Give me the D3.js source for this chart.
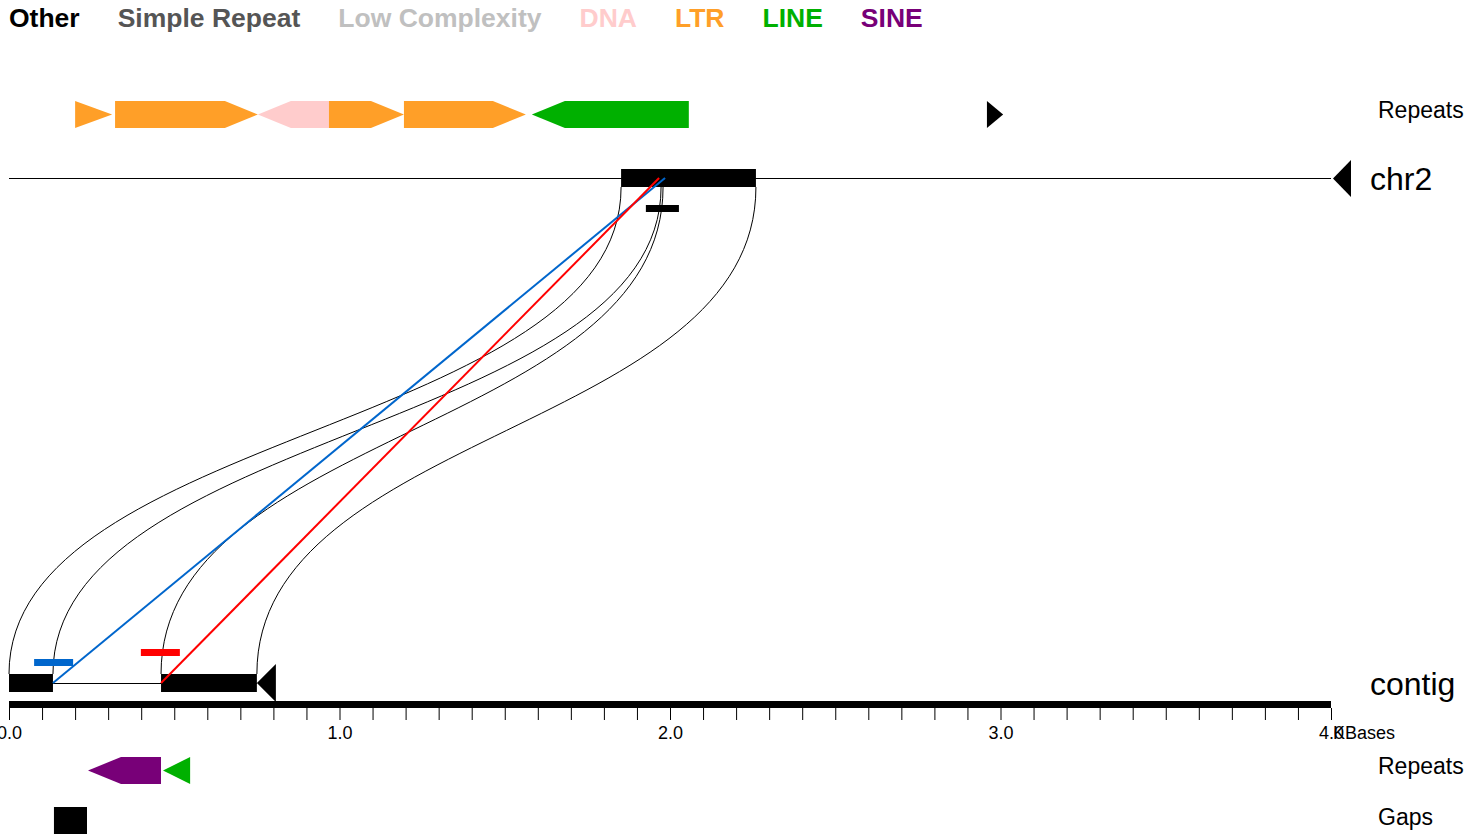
<!DOCTYPE html>
<html>
<head>
<meta charset="utf-8">
<script src="https://cdn.jsdelivr.net/npm/d3@7"></script>
<style>
  body { margin: 0; background: #fff; }
  svg text { font-family: "Liberation Sans", Arial, Helvetica, sans-serif; }
</style>
</head>
<body>
<div id="chart"></div>
<script>
// legend / repeat classes
let repeatTypes = ["Other", "Simple Repeat", "Low Complexity", "DNA", "LTR", "LINE", "SINE"];
let repeatColors = ["#000000", "#555555", "#c0c0c0", "#ffcccc", "#ff9f28", "#00b000", "#780078"];

// positions in kb
let chr2Length = 4.0;
let contigLength = 0.75;

let chr2Blocks = [[1.852, 2.260]];
let chr2Marks = [[1.927, 2.027]];
let contigBlocks = [[0.0, 0.133], [0.460, 0.750]];

// [start, end, strand, type]
let chr2Repeats = [
  [0.200, 0.312, "+", "LTR"],
  [0.321, 0.753, "+", "LTR"],
  [0.753, 0.968, "-", "DNA"],
  [0.968, 1.195, "+", "LTR"],
  [1.195, 1.564, "+", "LTR"],
  [1.582, 2.057, "-", "LINE"],
  [2.959, 3.008, "+", "Other"]
];
let contigRepeats = [
  [0.239, 0.460, "-", "SINE"],
  [0.466, 0.548, "-", "LINE"]
];
let contigGaps = [[0.136, 0.236]];

// alignment ribbons: contig [start,end] -> chr2 [start,end]
let ribbons = [
  {q: [0.0, 0.133], t: [1.852, 1.973]},
  {q: [0.460, 0.750], t: [1.979, 2.260]}
];
// highlighted hits: contig pos -> chr2 pos, with marker span on contig
let hits = [
  {q: 0.133, t: 1.985, mark: [0.076, 0.194], color: "#0066cc", level: 0},
  {q: 0.460, t: 1.967, mark: [0.399, 0.517], color: "#ff0000", level: 1}
];

let tickValues = d3.range(0, 41).map(i => i / 10);

let width = 1465;
let height = 840;

let x = d3.scaleLinear().domain([0, 4]).range([9, 1331]);
let color = d3.scaleOrdinal().domain(repeatTypes).range(repeatColors);

let svg = d3.select("#chart").append("svg")
  .attr("width", width)
  .attr("height", height);

// legend
let lx = 9;
repeatTypes.forEach((t, i) => {
  let txt = svg.append("text")
    .attr("x", lx)
    .attr("y", 27)
    .attr("font-size", 26.5)
    .attr("font-weight", "bold")
    .attr("fill", repeatColors[i])
    .text(t);
  lx += txt.node().getComputedTextLength() + 38;
});

function arrowPath(x0, x1, y, h, strand) {
  let head = 33;
  let len = x1 - x0;
  if (len < 40) {
    return strand === "+"
      ? `M${x0},${y}L${x1},${y + h / 2}L${x0},${y + h}Z`
      : `M${x1},${y}L${x0},${y + h / 2}L${x1},${y + h}Z`;
  }
  return strand === "+"
    ? `M${x0},${y}L${x1 - head},${y}L${x1},${y + h / 2}L${x1 - head},${y + h}L${x0},${y + h}Z`
    : `M${x1},${y}L${x0 + head},${y}L${x0},${y + h / 2}L${x0 + head},${y + h}L${x1},${y + h}Z`;
}

function drawRepeats(data, y) {
  svg.append("g").selectAll("path")
    .data(data)
    .enter()
    .append("path")
    .attr("d", d => arrowPath(x(d[0]), x(d[1]), y, 27, d[2]))
    .attr("fill", d => color(d[3]));
}

// track labels
function label(txt, lxPos, y, size) {
  svg.append("text")
    .attr("x", lxPos)
    .attr("y", y)
    .attr("font-size", size)
    .attr("fill", "#000")
    .text(txt);
}

// chr2 repeats
drawRepeats(chr2Repeats, 101);
label("Repeats", 1378, 118, 23);

// alignment curves
let link = d3.linkVertical();
let curveData = [];
ribbons.forEach(r => {
  curveData.push({source: [x(r.q[0]), 674], target: [x(r.t[0]), 187]});
  curveData.push({source: [x(r.q[1]), 674], target: [x(r.t[1]), 187]});
});
svg.append("g").selectAll("path")
  .data(curveData)
  .enter()
  .append("path")
  .attr("d", link)
  .attr("fill", "none")
  .attr("stroke", "#000")
  .attr("stroke-width", 1);

// chr2 line
svg.append("line")
  .attr("x1", x(0)).attr("x2", x(chr2Length))
  .attr("y1", 178.5).attr("y2", 178.5)
  .attr("stroke", "#000").attr("stroke-width", 1);
svg.append("path")
  .attr("d", `M${x(chr2Length) + 2},178.5L${x(chr2Length) + 20},160L${x(chr2Length) + 20},197Z`)
  .attr("fill", "#000");
svg.append("g").selectAll("rect")
  .data(chr2Blocks)
  .enter()
  .append("rect")
  .attr("x", d => x(d[0]))
  .attr("width", d => x(d[1]) - x(d[0]))
  .attr("y", 169).attr("height", 18)
  .attr("fill", "#000");
svg.append("g").selectAll("rect")
  .data(chr2Marks)
  .enter()
  .append("rect")
  .attr("x", d => x(d[0]))
  .attr("width", d => x(d[1]) - x(d[0]))
  .attr("y", 205).attr("height", 7)
  .attr("fill", "#000");
label("chr2", 1370, 190, 32);

// contig line and blocks
svg.append("line")
  .attr("x1", x(0)).attr("x2", x(contigLength))
  .attr("y1", 683.5).attr("y2", 683.5)
  .attr("stroke", "#000").attr("stroke-width", 1);
svg.append("g").selectAll("rect")
  .data(contigBlocks)
  .enter()
  .append("rect")
  .attr("x", d => x(d[0]))
  .attr("width", d => x(d[1]) - x(d[0]))
  .attr("y", 674).attr("height", 18)
  .attr("fill", "#000");
svg.append("path")
  .attr("d", `M${x(contigLength)},683L${x(contigLength) + 19},664L${x(contigLength) + 19},702Z`)
  .attr("fill", "#000");
label("contig", 1370, 695, 32);

// highlighted hits
let hitG = svg.append("g").selectAll("g")
  .data(hits)
  .enter()
  .append("g");
hitG.append("line")
  .attr("x1", d => x(d.q)).attr("y1", 683)
  .attr("x2", d => x(d.t)).attr("y2", 178)
  .attr("stroke", d => d.color)
  .attr("stroke-width", 2);
hitG.append("rect")
  .attr("x", d => x(d.mark[0]))
  .attr("width", d => x(d.mark[1]) - x(d.mark[0]))
  .attr("y", d => 659 - d.level * 10)
  .attr("height", 7)
  .attr("fill", d => d.color);

// axis
svg.append("rect")
  .attr("x", x(0)).attr("width", x(4) - x(0))
  .attr("y", 701).attr("height", 7)
  .attr("fill", "#000");
let axis = d3.axisBottom(x)
  .tickValues(tickValues)
  .tickSize(12)
  .tickPadding(6)
  .tickFormat(d => Math.abs(d - Math.round(d)) < 1e-9 ? d3.format(".1f")(d) : "");
let axG = svg.append("g")
  .attr("transform", "translate(0,708)")
  .call(axis);
axG.select(".domain").remove();
axG.selectAll("text")
  .attr("font-size", 18)
  .attr("font-family", "\"Liberation Sans\", Arial, Helvetica, sans-serif")
  .attr("fill", "#000");
axG.selectAll("line").attr("stroke", "#000");
svg.append("text")
  .attr("x", x(4) + 2)
  .attr("y", 739)
  .attr("font-size", 18)
  .text("KBases");

// contig repeats & gaps
drawRepeats(contigRepeats, 757);
label("Repeats", 1378, 774, 23);

svg.append("g").selectAll("rect")
  .data(contigGaps)
  .enter()
  .append("rect")
  .attr("x", d => x(d[0]))
  .attr("width", d => x(d[1]) - x(d[0]))
  .attr("y", 807).attr("height", 27)
  .attr("fill", "#000");
label("Gaps", 1378, 825, 23);
</script>
</body>
</html>
